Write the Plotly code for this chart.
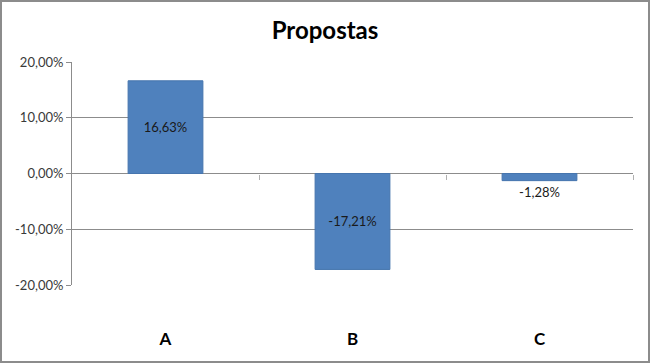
import plotly.graph_objects as go

categories = ["A", "B", "C"]
values = [16.63, -17.21, -1.28]
value_labels = ["16,63%", "-17,21%", "-1,28%"]
y_ticks = [20, 10, 0, -10, -20]
y_tick_labels = ["20,00%", "10,00%", "0,00%", "-10,00%", "-20,00%"]

W, H = 650, 363
ML, MR, MT, MB = 72, 17, 62, 78
FONT = "Lato, 'Open Sans', sans-serif"

fig = go.Figure()
fig.add_trace(go.Bar(
    x=categories, y=values, width=0.4,
    marker=dict(color="#4F81BD", line=dict(color="#4675ae", width=1)),
    text=value_labels,
    textposition=["inside", "inside", "outside"],
    insidetextanchor="middle",
    textfont=dict(family=FONT, size=13, color="#1a1a1a"),
    outsidetextfont=dict(family=FONT, size=13, color="#1a1a1a"),
    insidetextfont=dict(family=FONT, size=13, color="#1a1a1a"),
    constraintext="none",
    cliponaxis=False,
    hoverinfo="skip",
))
# invisible helper trace to draw category tick marks on zero line
fig.add_trace(go.Scatter(x=categories, y=[0, 0, 0], xaxis="x2", mode="markers",
                         marker=dict(opacity=0), showlegend=False, hoverinfo="skip"))

pw = W - ML - MR
ph = H - MT - MB
fig.update_layout(
    width=W, height=H,
    margin=dict(l=ML, r=MR, t=MT, b=MB),
    paper_bgcolor="white", plot_bgcolor="white",
    showlegend=False,
    title=dict(text="<b>Propostas</b>", x=0.5, xanchor="center", y=1 - 31 / H, yanchor="middle",
               font=dict(family=FONT, size=24, color="black")),
    xaxis=dict(
        type="category", range=[-0.5, 2.5],
        showgrid=False, zeroline=False, showline=False, ticks="",
        tickfont=dict(family=FONT, size=17, color="black"),
        ticklabelstandoff=42,
        tickprefix="<b>", ticksuffix="</b>",
    ),
    xaxis2=dict(
        overlaying="x", matches="x", anchor="free", position=0.5,
        type="category", showticklabels=False, showgrid=False, zeroline=False, showline=False,
        tickmode="array", tickvals=[0.5, 1.5, 2.5],
        ticks="outside", ticklen=5, tickcolor="#b0b0b0", tickwidth=1,
    ),
    yaxis=dict(
        range=[-20, 20], tickmode="array", tickvals=y_ticks, ticktext=y_tick_labels,
        showgrid=True, gridcolor="#8c8c8c", gridwidth=1,
        zeroline=True, zerolinecolor="#8c8c8c", zerolinewidth=1,
        showline=True, linecolor="#8c8c8c", linewidth=1,
        ticks="outside", ticklen=5, tickcolor="#8c8c8c",
        tickfont=dict(family=FONT, size=13, color="#3a3a3a"),
    ),
    shapes=[dict(type="rect", xref="paper", yref="paper",
                 x0=-(ML - 1) / pw, x1=1 + (MR - 1) / pw,
                 y0=-(MB - 1) / ph, y1=1 + (MT - 1) / ph,
                 line=dict(color="#8c8c8c", width=2), layer="above")],
)

fig.write_html("out.html", config={"displayModeBar": False, "staticPlot": True},
               post_script="document.body.style.margin='0px';document.body.style.padding='0px';")
